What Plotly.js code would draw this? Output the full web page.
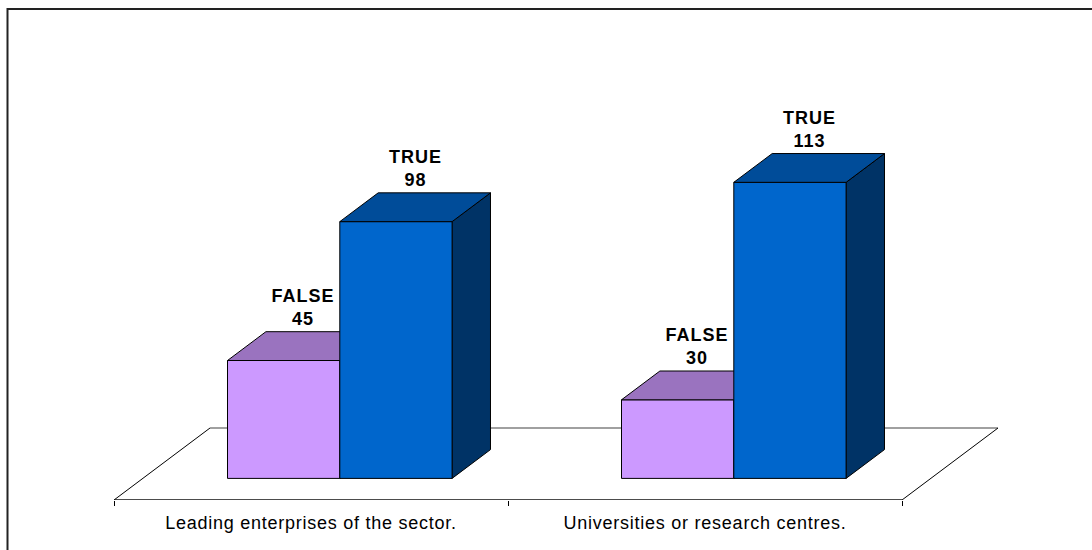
<!DOCTYPE html>
<html>
<head>
<meta charset="utf-8">
<script src="https://cdn.plot.ly/plotly-3.0.1.min.js"></script>
<style>
  html, body { margin: 0; padding: 0; background: #fff; }
  #chart { width: 1092px; height: 550px; }
  #chart .xtick text { letter-spacing: 0.75px; }
  #chart .annotation-text { letter-spacing: 1px; }
</style>
</head>
<body>
<div id="chart"></div>
<script>
// ---- data ----
const categories = ["Leading enterprises of the sector.", "Universities or research centres."];
const seriesNames = ["FALSE", "TRUE"];
const falseValues = [45, 30];
const trueValues = [98, 113];

// ---- styling / geometry ----
const FONT = "Liberation Sans, Arial, sans-serif";
const colors = {
  FALSE: { front: "#CC99FF", top: "#9A73BF", side: "#7A5AA0" },
  TRUE:  { front: "#0066CC", top: "#004C99", side: "#003366" }
};
const W = 1092, H = 550;
const PX_PER_CAT = 394;      // pixels per category unit
const PX_PER_VAL = 2.62;     // pixels per value unit
const X0_PX = 114;           // pixel of category 0 at floor front
const BOTTOM_MARGIN = 50;    // floor front line at H - 50
const FLOOR_DX_PX = 96, FLOOR_DY_PX = 72;
const floorDX = FLOOR_DX_PX / PX_PER_CAT;
const floorDY = FLOOR_DY_PX / PX_PER_VAL;
const depthFront = 0.30, depthBack = 0.70;
const barW = 0.285;
const nCat = categories.length;

const traces = [];
function poly(xs, ys, fill, lineColor, lineW) {
  traces.push({
    type: "scatter", mode: "lines", x: xs.concat([xs[0]]), y: ys.concat([ys[0]]),
    fill: "toself", fillcolor: fill,
    line: { color: lineColor, width: lineW }, hoverinfo: "skip", showlegend: false
  });
}
function line(xs, ys, color, w) {
  traces.push({
    type: "scatter", mode: "lines", x: xs, y: ys,
    line: { color: color, width: w }, hoverinfo: "skip", showlegend: false
  });
}

// floor
poly([0, nCat, nCat + floorDX, floorDX], [0, 0, floorDY, floorDY], "#FFFFFF", "rgba(0,0,0,0)", 0);
line([floorDX, nCat + floorDX], [floorDY, floorDY], "#808080", 1.5);
line([0, floorDX], [0, floorDY], "#000000", 1);
line([nCat, nCat + floorDX], [0, floorDY], "#000000", 1);
line([0, nCat], [0, 0], "#111111", 1.5);

// bars
const annotations = [];
const bdx = (depthBack - depthFront) * floorDX;
const bdy = (depthBack - depthFront) * floorDY;
const fdx = depthFront * floorDX;
const fdy = depthFront * floorDY;
const series = [falseValues, trueValues];
for (let c = 0; c < nCat; c++) {
  const groupLeft = c + 0.5 - barW * series.length / 2;
  for (let s = 0; s < series.length; s++) {
    const v = series[s][c];
    const col = colors[seriesNames[s]];
    const L = groupLeft + s * barW + fdx;
    const R = L + barW;
    const b = fdy, t = fdy + v;
    // side
    poly([R, R + bdx, R + bdx, R], [b, b + bdy, t + bdy, t], col.side, "#000", 1);
    // front
    poly([L, R, R, L], [b, b, t, t], col.front, "#000", 1);
    // top
    poly([L, R, R + bdx, L + bdx], [t, t, t + bdy, t + bdy], col.top, "#000", 1);
    annotations.push({
      x: (L + R) / 2 + bdx / 2, y: t + bdy, xref: "x", yref: "y",
      text: "<b>" + seriesNames[s] + "</b><br><b>" + v + "</b>",
      showarrow: false, yanchor: "bottom", xanchor: "center",
      font: { family: FONT, size: 18, color: "#000" }, yshift: 1
    });
  }
}

const layout = {
  width: W, height: H,
  margin: { l: 0, r: 0, t: 0, b: BOTTOM_MARGIN, pad: 0 },
  paper_bgcolor: "#FFFFFF", plot_bgcolor: "rgba(0,0,0,0)",
  showlegend: false,
  xaxis: {
    range: [-X0_PX / PX_PER_CAT, (W - X0_PX) / PX_PER_CAT],
    tickmode: "array", tickvals: categories.map((_, i) => i + 0.5), ticktext: categories,
    ticks: "outside", ticklen: 6, tickcolor: "rgba(0,0,0,0)",
    tickfont: { family: FONT, size: 18, color: "#000" },
    showgrid: false, zeroline: false, showline: false, fixedrange: true,
    minor: { tickmode: "linear", tick0: 0, dtick: 1, ticks: "outside", ticklen: 5, tickcolor: "#000", tickwidth: 1, showgrid: false }
  },
  yaxis: {
    range: [0, (H - BOTTOM_MARGIN) / PX_PER_VAL],
    visible: false, fixedrange: true
  },
  annotations: annotations,
  shapes: [{
    type: "rect", xref: "paper", yref: "paper",
    x0: 7.5 / W, x1: 1.05,
    y0: -0.2, y1: (H - BOTTOM_MARGIN - 9) / (H - BOTTOM_MARGIN),
    line: { color: "#222", width: 2 }, fillcolor: "rgba(0,0,0,0)", layer: "above"
  }]
};

Plotly.newPlot("chart", traces, layout, { displayModeBar: false, staticPlot: true });
</script>
</body>
</html>
